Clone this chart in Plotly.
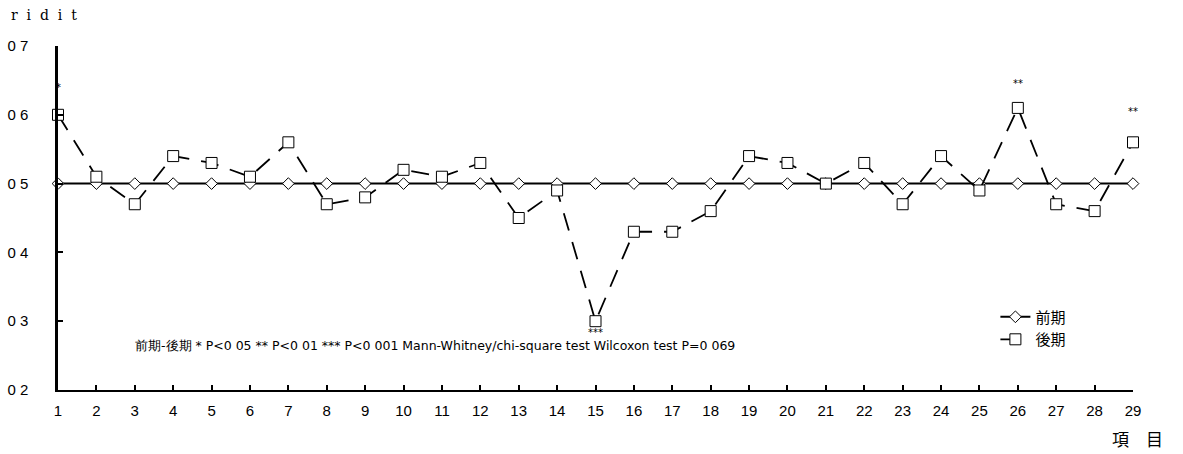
import plotly.graph_objects as go

items = list(range(1, 30))
zenki = [0.5] * 29
koki = [0.60, 0.51, 0.47, 0.54, 0.53, 0.51, 0.56, 0.47, 0.48, 0.52,
        0.51, 0.53, 0.45, 0.49, 0.30, 0.43, 0.43, 0.46, 0.54, 0.53,
        0.50, 0.53, 0.47, 0.54, 0.49, 0.61, 0.47, 0.46, 0.56]
y_ticks = [0.2, 0.3, 0.4, 0.5, 0.6, 0.7]
y_labels = ["0 2", "0 3", "0 4", "0 5", "0 6", "0 7"]
sig_items = [1, 15, 26, 29]
sig_marks = ["*", "***", "**", "**"]
sig_y = [0.64, 0.3, 0.645, 0.605]
sig_anchor = ["middle", "top", "middle", "middle"]
sig_shift = [0, -4, 0, 0]

FONT = "Noto Sans CJK JP"
TXT = "DejaVu Sans"

fig = go.Figure()
fig.add_trace(go.Scatter(
    x=items, y=zenki, mode="lines+markers", name="前期",
    line=dict(color="black", width=2),
    marker=dict(symbol="diamond", size=9, color="white", line=dict(color="black", width=1)),
    cliponaxis=False,
))
fig.add_trace(go.Scatter(
    x=items, y=koki, mode="lines+markers", name="後期",
    line=dict(color="black", width=1.8, dash="18px,12px"),
    marker=dict(symbol="square", size=11, color="white", line=dict(color="black", width=1)),
    cliponaxis=False,
))

for xi, m, yi, ya, ys in zip(sig_items, sig_marks, sig_y, sig_anchor, sig_shift):
    fig.add_annotation(x=xi, y=yi, text=m, showarrow=False, yanchor=ya, yshift=ys,
                       font=dict(size=10, color="black", family=TXT))

fig.add_annotation(x=2.95, y=0.265, xanchor="left", yanchor="middle",
                   text="前期-後期 * P<0 05 ** P<0 01 *** P<0 001 Mann-Whitney/chi-square test Wilcoxon test P=0 069",
                   showarrow=False, font=dict(size=12.5, color="black", family=TXT))

fig.add_annotation(xref="paper", yref="paper", x=-0.046, y=1.09, xanchor="left", yanchor="middle",
                   text="r\u00a0\u00a0i\u00a0\u00a0d\u00a0\u00a0i\u00a0\u00a0t", showarrow=False,
                   font=dict(size=14, color="black", family="DejaVu Serif"))
fig.add_annotation(xref="paper", yref="paper", x=1.03, y=-0.14, xanchor="right", yanchor="middle",
                   text="項　目", showarrow=False, font=dict(size=17, color="black", family=FONT))

fig.update_layout(
    width=1183, height=454,
    margin=dict(l=58, r=50, t=46, b=64, autoexpand=False),
    paper_bgcolor="white", plot_bgcolor="white",
    font=dict(family=FONT, color="black", size=13),
    showlegend=True,
    legend=dict(x=0.872, y=0.26, xanchor="left", yanchor="top",
                bgcolor="rgba(0,0,0,0)", font=dict(size=15, family=FONT),
                itemwidth=30, tracegroupgap=4),
)
fig.update_xaxes(
    range=[1, 29], tickvals=items, ticktext=[str(i) for i in items],
    showgrid=False, zeroline=False, showline=True, linecolor="black", linewidth=2,
    ticks="inside", ticklen=5, tickcolor="black", tickwidth=2, automargin=False,
    tickfont=dict(size=15, family="Liberation Sans"), ticklabelstandoff=6,
)
fig.update_yaxes(
    range=[0.2, 0.7], tickvals=y_ticks, ticktext=y_labels,
    showgrid=False, zeroline=False, showline=True, linecolor="black", linewidth=2.5,
    ticks="inside", ticklen=5, tickcolor="black", tickwidth=2, automargin=False,
    tickfont=dict(size=15, family="Liberation Sans"), ticklabelstandoff=24,
)

fig.write_html("out.html", config={"displayModeBar": False},
               post_script="document.body.style.margin='0';")
